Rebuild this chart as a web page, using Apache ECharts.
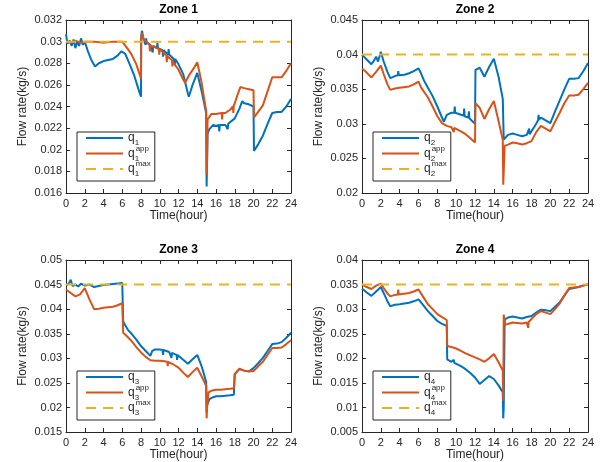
<!DOCTYPE html>
<html><head><meta charset="utf-8">
<script src="https://cdn.jsdelivr.net/npm/echarts@6/dist/echarts.min.js"></script>
<style>html,body{margin:0;padding:0;background:#fff}#c{width:605px;height:462px}</style>
</head><body><div id="c"></div>
<script>
// ---- data (time in hours, flow in kg/s) ----
const zoneTitles = ['Zone 1', 'Zone 2', 'Zone 3', 'Zone 4'];
const xMin = 0, xMax = 24, xStep = 2;
const yMins = [0.016, 0.020, 0.015, 0.005];
const yMaxs = [0.032, 0.045, 0.050, 0.040];
const ySteps = [0.002, 0.005, 0.005, 0.005];
const qMaxValues = [0.030, 0.040, 0.045, 0.035];

const q1 = [[0,0.0307],[0.15,0.0298],[0.4,0.0301],[0.6,0.0296],[0.8,0.0302],[1.0,0.0294],[1.2,0.0300],[1.4,0.0296],[1.6,0.0303],[1.8,0.0297],[2.0,0.0300],[2.3,0.0292],[2.7,0.0283],[3.1,0.0277],[3.5,0.0280],[4,0.0282],[4.5,0.0283],[5,0.0284],[5.5,0.0287],[5.9,0.0291],[6.1,0.0291],[6.3,0.0289],[6.8,0.0279],[7.3,0.0268],[7.8,0.0254],[8.0,0.0249],[8.02,0.0305],[8.1,0.0310],[8.3,0.0301],[8.5,0.0297],[8.55,0.0303],[8.6,0.0299],[9,0.0297],[9.2,0.0296],[9.25,0.0290],[9.3,0.0296],[9.5,0.0296],[9.7,0.0294],[9.75,0.0299],[9.8,0.0294],[10,0.0294],[10.3,0.0292],[10.35,0.0286],[10.4,0.0292],[10.5,0.0291],[10.9,0.0288],[10.95,0.0293],[11,0.0288],[11.5,0.0284],[11.6,0.0278],[11.65,0.0284],[12,0.0279],[12.5,0.0270],[13,0.0252],[13.1,0.0249],[13.5,0.0260],[14,0.0271],[14.5,0.0253],[14.95,0.0234],[15.0,0.0166],[15.05,0.0166],[15.1,0.0215],[15.3,0.0219],[15.7,0.0223],[16,0.0222],[16.3,0.0223],[16.35,0.0217],[16.4,0.0223],[17,0.0223],[17.2,0.0224],[17.25,0.0219],[17.3,0.0224],[17.5,0.0224],[18,0.0229],[18.5,0.0238],[18.8,0.0245],[19,0.0243],[19.5,0.0242],[20,0.0240],[20.05,0.0199],[20.5,0.0205],[21,0.0213],[21.5,0.0224],[22,0.0234],[22.5,0.0235],[23,0.0235],[23.5,0.0240],[24,0.0247]];
const q1app = [[0,0.0300],[0.5,0.0299],[1,0.0301],[1.5,0.0299],[2,0.0300],[3,0.0300],[4,0.0299],[5,0.0300],[6,0.0300],[6.2,0.0299],[6.6,0.0293],[7,0.0288],[7.5,0.0279],[8,0.0266],[8.02,0.0304],[8.1,0.0308],[8.3,0.0302],[8.6,0.0300],[8.9,0.0297],[8.95,0.0291],[9,0.0296],[9.5,0.0295],[9.9,0.0293],[9.95,0.0288],[10,0.0293],[10.5,0.0289],[10.7,0.0287],[10.75,0.0281],[10.8,0.0287],[11,0.0285],[11.3,0.0283],[11.35,0.0277],[11.4,0.0282],[11.5,0.0280],[12,0.0274],[12.5,0.0265],[12.7,0.0262],[13.2,0.0270],[13.6,0.0275],[14,0.0281],[14.4,0.0265],[14.95,0.0236],[15.0,0.0177],[15.05,0.0190],[15.1,0.0228],[15.5,0.0233],[16,0.0233],[16.6,0.0234],[16.65,0.0228],[16.7,0.0234],[17,0.0234],[17.5,0.0237],[17.8,0.0240],[17.85,0.0234],[17.9,0.0241],[18,0.0243],[18.3,0.0251],[18.6,0.0258],[19,0.0257],[19.5,0.0256],[20,0.0255],[20.05,0.0230],[20.5,0.0235],[21,0.0241],[21.5,0.0254],[22,0.0267],[22.5,0.0267],[23,0.0267],[23.5,0.0273],[24,0.0280]];

const q2 = [[0,0.0400],[0.5,0.0393],[1,0.0386],[1.3,0.0392],[1.5,0.0397],[1.7,0.0390],[2,0.0404],[2.3,0.0390],[2.7,0.0375],[3,0.0366],[3.5,0.0369],[3.8,0.0370],[3.85,0.0376],[3.9,0.0370],[4,0.0370],[4.5,0.0371],[5,0.0373],[5.5,0.0376],[6,0.0380],[6.2,0.0375],[6.6,0.0362],[7,0.0352],[7.5,0.0340],[8,0.0325],[8.4,0.0312],[8.7,0.0303],[9,0.0313],[9.5,0.0316],[9.8,0.0316],[9.85,0.0325],[9.9,0.0316],[10,0.0316],[10.5,0.0313],[10.8,0.0312],[10.85,0.0322],[10.9,0.0311],[11,0.0311],[11.3,0.0309],[11.35,0.0318],[11.4,0.0308],[11.5,0.0306],[12,0.0300],[12.05,0.0378],[12.5,0.0381],[13,0.0368],[13.5,0.0382],[14,0.0394],[14.5,0.0368],[14.95,0.0336],[15.05,0.0277],[15.5,0.0284],[16,0.0286],[16.5,0.0284],[17,0.0282],[17.5,0.0284],[17.7,0.0285],[17.75,0.0293],[17.8,0.0285],[18,0.0287],[18.5,0.0300],[18.7,0.0305],[18.75,0.0313],[18.8,0.0306],[19,0.0309],[19.5,0.0305],[20,0.0301],[20.5,0.0318],[21,0.0334],[21.5,0.0350],[22,0.0365],[22.5,0.0365],[23,0.0366],[23.5,0.0376],[24,0.0388]];
const q2app = [[0,0.0380],[0.5,0.0374],[1,0.0367],[1.5,0.0375],[2,0.0384],[2.3,0.0372],[2.7,0.0357],[3,0.0349],[3.5,0.0351],[4,0.0352],[5,0.0354],[5.5,0.0357],[6,0.0361],[6.3,0.0352],[7,0.0338],[7.5,0.0325],[8,0.0311],[8.5,0.0301],[9,0.0297],[9.5,0.0295],[9.7,0.0294],[9.75,0.0288],[9.8,0.0294],[10,0.0293],[10.5,0.0289],[11,0.0285],[11.5,0.0279],[12,0.0273],[12.05,0.0330],[12.5,0.0323],[13,0.0307],[13.5,0.0321],[14,0.0333],[14.5,0.0304],[14.95,0.0277],[15.0,0.0212],[15.05,0.0230],[15.15,0.0268],[15.5,0.0270],[16,0.0273],[16.5,0.0272],[17,0.0270],[17.5,0.0272],[18,0.0275],[18.5,0.0288],[19,0.0297],[19.5,0.0293],[20,0.0289],[20.5,0.0303],[21,0.0316],[21.5,0.0330],[22,0.0341],[22.5,0.0341],[23,0.0342],[23.5,0.0350],[24,0.0359]];

const q3 = [[0,0.0448],[0.3,0.0452],[0.5,0.0460],[0.7,0.0447],[1,0.0450],[1.3,0.0446],[1.6,0.0452],[2,0.0448],[2.5,0.0450],[3,0.0445],[3.5,0.0447],[4,0.0449],[4.5,0.0450],[5,0.0451],[5.5,0.0452],[6,0.0453],[6.1,0.0375],[6.3,0.0368],[6.6,0.0358],[7,0.0350],[7.5,0.0338],[8,0.0325],[8.5,0.0315],[9,0.0305],[9.2,0.0315],[9.5,0.0318],[10,0.0318],[10.3,0.0317],[10.35,0.0307],[10.4,0.0317],[10.5,0.0316],[11,0.0313],[11.2,0.0312],[11.25,0.0301],[11.3,0.0311],[11.5,0.0310],[11.8,0.0307],[11.85,0.0297],[11.9,0.0307],[12,0.0305],[12.5,0.0297],[13,0.0289],[13.5,0.0298],[14,0.0307],[14.5,0.0282],[14.95,0.0252],[15,0.0190],[15.05,0.0205],[15.3,0.0217],[15.7,0.0221],[16,0.0223],[16.5,0.0223],[17,0.0224],[17.5,0.0225],[17.9,0.0226],[18,0.0268],[18.5,0.0278],[19,0.0275],[19.5,0.0273],[20,0.0280],[20.5,0.0290],[21,0.0301],[21.5,0.0315],[22,0.0329],[22.5,0.0330],[23,0.0333],[23.5,0.0342],[24,0.0352]];
const q3app = [[0,0.0440],[0.5,0.0433],[1,0.0426],[1.5,0.0430],[2,0.0443],[2.5,0.0420],[3,0.0400],[3.5,0.0401],[4,0.0403],[5,0.0405],[5.5,0.0408],[6,0.0412],[6.1,0.0352],[6.5,0.0345],[7,0.0335],[7.5,0.0323],[8,0.0312],[8.5,0.0303],[9,0.0296],[9.5,0.0295],[10,0.0295],[10.5,0.0294],[10.8,0.0293],[10.85,0.0284],[10.9,0.0293],[11,0.0292],[11.5,0.0287],[12,0.0281],[12.5,0.0271],[13,0.0262],[13.5,0.0272],[14,0.0281],[14.5,0.0262],[14.95,0.0244],[15.0,0.0178],[15.05,0.0200],[15.2,0.0231],[15.5,0.0234],[16,0.0236],[16.5,0.0236],[17,0.0237],[17.5,0.0238],[17.9,0.0239],[18,0.0268],[18.5,0.0279],[19,0.0275],[19.5,0.0274],[20,0.0274],[20.5,0.0284],[21,0.0293],[21.5,0.0307],[22,0.0321],[22.5,0.0321],[23,0.0322],[23.5,0.0329],[24,0.0337]];

const q4 = [[0,0.0342],[0.5,0.0334],[1,0.0327],[1.5,0.0336],[2,0.0345],[2.3,0.0333],[2.7,0.0316],[3,0.0306],[3.5,0.0309],[4,0.0310],[5,0.0313],[5.5,0.0316],[6,0.0320],[6.5,0.0308],[7,0.0296],[7.5,0.0286],[8,0.0276],[8.5,0.0270],[9,0.0266],[9.05,0.0198],[9.5,0.0193],[9.7,0.0191],[9.75,0.0197],[9.8,0.0191],[10,0.0188],[10.5,0.0184],[11,0.0178],[11.5,0.0170],[12,0.0161],[12.5,0.0148],[13,0.0156],[13.5,0.0164],[14,0.0158],[14.5,0.0145],[14.95,0.0131],[15.0,0.0078],[15.05,0.0100],[15.15,0.0279],[15.5,0.0283],[16,0.0285],[16.5,0.0283],[17,0.0281],[17.5,0.0284],[18,0.0286],[18.5,0.0293],[19,0.0299],[19.5,0.0298],[20,0.0296],[20.5,0.0305],[21,0.0314],[21.5,0.0328],[22,0.0341],[22.5,0.0343],[23,0.0345],[23.5,0.0348],[24,0.0350]];
const q4app = [[0,0.0350],[0.5,0.0345],[1,0.0341],[1.5,0.0348],[2,0.0352],[2.3,0.0343],[2.7,0.0332],[3,0.0326],[3.5,0.0329],[3.8,0.0330],[3.85,0.0340],[3.9,0.0330],[4,0.0331],[5,0.0333],[5.5,0.0336],[6,0.0340],[6.5,0.0325],[7,0.0310],[7.5,0.0300],[8,0.0290],[8.5,0.0284],[9,0.0278],[9.05,0.0225],[9.5,0.0223],[10,0.0220],[10.5,0.0215],[11,0.0210],[11.5,0.0206],[12,0.0202],[12.5,0.0198],[13,0.0193],[13.5,0.0200],[14,0.0209],[14.5,0.0192],[14.95,0.0175],[15.0,0.0114],[15.05,0.0289],[15.2,0.0268],[15.5,0.0270],[16,0.0273],[16.5,0.0272],[17,0.0271],[17.5,0.0273],[17.6,0.0273],[17.65,0.0262],[17.7,0.0274],[18,0.0280],[18.5,0.0290],[19,0.0296],[19.5,0.0293],[20,0.0290],[20.5,0.0300],[21,0.0312],[21.5,0.0328],[22,0.0343],[22.5,0.0344],[23,0.0345],[23.5,0.0348],[24,0.0350]];

const qSeries = [q1, q2, q3, q4];
const qAppSeries = [q1app, q2app, q3app, q4app];

// ---- layout / styles ----
const FONT = 'Liberation Sans, Arial, Helvetica, sans-serif';
const AX = '#262626';
const BLUE = '#0072BD', ORANGE = '#D95319', YELLOW = '#EDB120';
const grids = [
  {left: 66, top: 20, width: 225, height: 173},
  {left: 362, top: 20, width: 226, height: 173},
  {left: 66, top: 260, width: 225, height: 173},
  {left: 362, top: 260, width: 226, height: 173}
];
const legendPos = [
  {left: 77, top: 132}, {left: 373, top: 132},
  {left: 77, top: 371}, {left: 373, top: 371}
];

const option = {
  animation: false,
  backgroundColor: '#fff',
  title: [], grid: [], xAxis: [], yAxis: [], legend: [], series: []
};

const legendLabel = {};
for (let i = 0; i < 4; i++) {
  const n = String(i + 1);
  legendLabel['q' + n] = '{q|q}{sub|' + n + '}';
  legendLabel['q' + n + 'app'] = '{q|q}{subz|' + n + '}{sup|app}';
  legendLabel['q' + n + 'max'] = '{q|q}{subz|' + n + '}{sup|max}';
}

for (let i = 0; i < 4; i++) {
  const g = grids[i];
  option.grid.push(Object.assign({containLabel: false}, g));
  option.title.push({
    text: zoneTitles[i], left: g.left + g.width / 2, top: i < 2 ? 4 : 244,
    textAlign: 'center', padding: 0,
    textStyle: {fontFamily: FONT, fontSize: 12, fontWeight: 'bold', color: '#000'}
  });
  const axLine = {show: true, onZero: false, lineStyle: {color: AX, width: 1}};
  const tick = {show: true, inside: true, length: 4, lineStyle: {color: AX, width: 1}};
  option.xAxis.push({
    type: 'value', gridIndex: i, min: xMin, max: xMax, interval: xStep, position: 'bottom',
    axisLine: axLine, axisTick: tick, splitLine: {show: false},
    axisLabel: {margin: 5, fontFamily: FONT, fontSize: 11, color: AX},
    name: 'Time(hour)', nameLocation: 'middle', nameGap: 15,
    nameTextStyle: {fontFamily: FONT, fontSize: 12, color: AX}
  });
  option.xAxis.push({
    type: 'value', gridIndex: i, min: xMin, max: xMax, interval: xStep, position: 'top',
    axisLine: axLine, axisTick: tick, splitLine: {show: false}, axisLabel: {show: false}
  });
  option.yAxis.push({
    type: 'value', gridIndex: i, min: yMins[i], max: yMaxs[i], interval: ySteps[i], position: 'left',
    axisLine: axLine, axisTick: tick, splitLine: {show: false},
    axisLabel: {margin: 4, fontFamily: FONT, fontSize: 11, color: AX},
    name: 'Flow rate(kg/s)', nameLocation: 'middle', nameGap: 37,
    nameTextStyle: {fontFamily: FONT, fontSize: 12, color: AX}
  });
  option.yAxis.push({
    type: 'value', gridIndex: i, min: yMins[i], max: yMaxs[i], interval: ySteps[i], position: 'right',
    axisLine: axLine, axisTick: tick, splitLine: {show: false}, axisLabel: {show: false}
  });
  const n = String(i + 1);
  const xi = i * 2, yi = i * 2;
  option.series.push({
    name: 'q' + n, type: 'line', xAxisIndex: xi, yAxisIndex: yi, data: qSeries[i],
    symbol: 'none', showSymbol: false, lineStyle: {color: BLUE, width: 2}, itemStyle: {color: BLUE}, z: 2
  });
  option.series.push({
    name: 'q' + n + 'app', type: 'line', xAxisIndex: xi, yAxisIndex: yi, data: qAppSeries[i],
    symbol: 'none', showSymbol: false, lineStyle: {color: ORANGE, width: 2}, itemStyle: {color: ORANGE}, z: 3
  });
  option.series.push({
    name: 'q' + n + 'max', type: 'line', xAxisIndex: xi, yAxisIndex: yi,
    data: [[xMin, qMaxValues[i]], [xMax, qMaxValues[i]]],
    symbol: 'none', showSymbol: false, lineStyle: {color: YELLOW, width: 2, type: [10, 7]}, itemStyle: {color: YELLOW}, z: 4
  });
  option.legend.push({
    orient: 'vertical', left: legendPos[i].left, top: legendPos[i].top,
    data: ['q' + n, 'q' + n + 'app', 'q' + n + 'max'],
    selectedMode: false, backgroundColor: '#fff', borderColor: AX, borderWidth: 1, borderRadius: 0,
    padding: [0, 4, 3, 8], itemGap: -2.5, itemWidth: 37, itemHeight: 14,
    itemStyle: {opacity: 0},
    formatter: function (name) { return legendLabel[name]; },
    textStyle: {
      fontFamily: FONT, color: AX,
      rich: {
        q: {fontFamily: FONT, fontSize: 12, lineHeight: 18, color: AX},
        sub: {fontFamily: FONT, fontSize: 8, verticalAlign: 'bottom', color: AX},
        subz: {fontFamily: FONT, fontSize: 8, verticalAlign: 'bottom', width: 1, color: AX},
        sup: {fontFamily: FONT, fontSize: 8, verticalAlign: 'top', color: AX}
      }
    }
  });
}

const chart = echarts.init(document.getElementById('c'), null, {renderer: 'canvas'});
chart.setOption(option);
</script>
</body></html>
